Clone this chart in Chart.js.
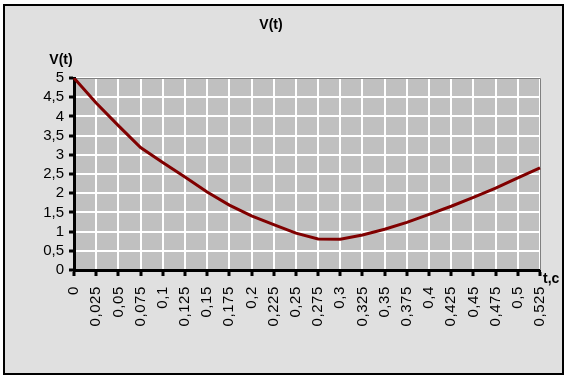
<!DOCTYPE html>
<html>
<head>
<meta charset="utf-8">
<script src="https://cdn.jsdelivr.net/npm/chart.js@4/dist/chart.umd.min.js"></script>
<style>
  html, body { margin: 0; padding: 0; background: #ffffff; }
  #wrap { width: 568px; height: 379px; position: relative; }
</style>
</head>
<body>
<div id="wrap"><canvas id="c" width="568" height="379"></canvas></div>
<script>
// Data
const tLabels = ['0','0,025','0,05','0,075','0,1','0,125','0,15','0,175','0,2','0,225','0,25','0,275','0,3','0,325','0,35','0,375','0,4','0,425','0,45','0,475','0,5','0,525'];
const vValues = [5, 4.35, 3.76, 3.19, 2.8, 2.42, 2.03, 1.69, 1.41, 1.18, 0.96, 0.81, 0.8, 0.91, 1.06, 1.24, 1.45, 1.66, 1.89, 2.13, 2.4, 2.66];
const chartTitle = 'V(t)';
const yTitle = 'V(t)';
const xTitle = 't,c';

const FONT = '"Liberation Sans", Arial, sans-serif';

const decor = {
  id: 'decor',
  beforeDraw(chart) {
    const ctx = chart.ctx;
    const a = chart.chartArea;
    ctx.letterSpacing = '0px';
    ctx.save();
    ctx.fillStyle = '#ffffff';
    ctx.fillRect(0, 0, chart.width, chart.height);
    ctx.fillStyle = '#e0e0e0';
    ctx.fillRect(4, 5, 559, 369);
    ctx.strokeStyle = '#000000';
    ctx.lineWidth = 2;
    ctx.strokeRect(4, 5, 559, 369);
    ctx.fillStyle = '#c0c0c0';
    ctx.fillRect(a.left, a.top, a.right - a.left, a.bottom - a.top);
    ctx.restore();
  },
  beforeDatasetsDraw(chart) {
    const ctx = chart.ctx;
    const a = chart.chartArea;
    ctx.save();
    ctx.strokeStyle = '#808080';
    ctx.lineWidth = 1;
    ctx.beginPath();
    ctx.moveTo(a.left, a.top + 0.5);
    ctx.lineTo(a.right + 0.5, a.top + 0.5);
    ctx.lineTo(a.right + 0.5, a.bottom);
    ctx.stroke();
    ctx.restore();
  },
  afterDatasetsDraw(chart) {
    // x tick labels (drawn in a later layer) use slightly wider letter spacing
    chart.ctx.letterSpacing = '0.6px';
  },
  afterDraw(chart) {
    const ctx = chart.ctx;
    const a = chart.chartArea;
    ctx.letterSpacing = '0px';
    ctx.save();
    ctx.fillStyle = '#000000';
    ctx.font = 'bold 14px ' + FONT;
    ctx.textAlign = 'center';
    ctx.textBaseline = 'middle';
    ctx.fillText(yTitle, a.left - 13, a.top - 18);
    ctx.textAlign = 'left';
    ctx.fillText(xTitle, a.right + 3, a.bottom + 9);
    ctx.restore();
  }
};

new Chart(document.getElementById('c'), {
  type: 'line',
  data: {
    labels: tLabels,
    datasets: [{
      data: vValues,
      borderColor: '#800000',
      borderWidth: 3,
      pointRadius: 0,
      tension: 0,
      fill: false
    }]
  },
  options: {
    responsive: false,
    animation: false,
    devicePixelRatio: 1,
    layout: { padding: { left: 0, right: 26, top: 0, bottom: 0 } },
    plugins: {
      legend: { display: false },
      tooltip: { enabled: false },
      title: {
        display: true,
        text: chartTitle,
        color: '#000000',
        font: { family: FONT, size: 14, weight: 'bold', lineHeight: 1.2 },
        padding: { top: 17, bottom: 44.2 }
      }
    },
    scales: {
      x: {
        type: 'category',
        offset: false,
        afterFit(scale) { scale.height = 109; },
        grid: {
          color: '#ffffff',
          lineWidth: 2,
          tickColor: '#000000',
          tickWidth: 3,
          tickLength: 6
        },
        border: { display: true, color: '#000000', width: 3 },
        ticks: {
          z: 1,
          autoSkip: false,
          maxRotation: 90,
          minRotation: 90,
          padding: 10,
          color: '#000000',
          font: { family: FONT, size: 15 }
        }
      },
      y: {
        min: 0,
        max: 5,
        afterFit(scale) { scale.width = 74; },
        grid: {
          color: '#ffffff',
          lineWidth: 2,
          tickColor: '#000000',
          tickWidth: 3,
          tickLength: 5
        },
        border: { display: true, color: '#000000', width: 3 },
        ticks: {
          autoSkip: false,
          stepSize: 0.5,
          padding: 5,
          color: '#000000',
          font: { family: FONT, size: 15 },
          callback: (v) => String(Math.round(v * 10) / 10).replace('.', ',')
        }
      }
    }
  },
  plugins: [decor]
});
</script>
</body>
</html>
